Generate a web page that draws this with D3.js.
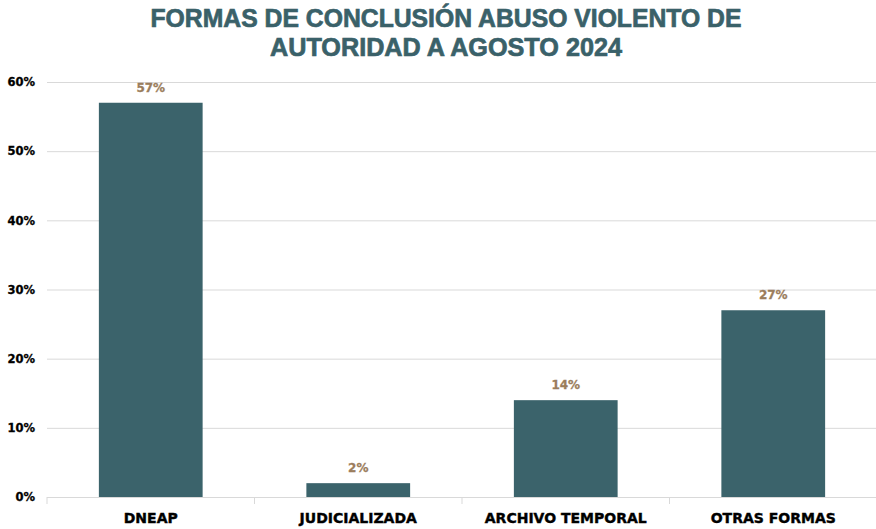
<!DOCTYPE html>
<html lang="es">
<head>
    <meta charset="UTF-8">
    <title>Formas de conclusión abuso violento de autoridad</title>
    <script src="https://d3js.org/d3.v7.min.js"></script>
    <style>
        body { margin: 0; background: white; }
        svg { display: block; }
    </style>
</head>
<body>
    <svg width="876" height="529"></svg>
    <script>
        const categories = ["DNEAP", "JUDICIALIZADA", "ARCHIVO TEMPORAL", "OTRAS FORMAS"];
        const values = [57, 2, 14, 27];
        const yTicks = [0, 10, 20, 30, 40, 50, 60];
        const titleLines = ["FORMAS DE CONCLUSIÓN ABUSO VIOLENTO DE", "AUTORIDAD A AGOSTO 2024"];

        const svg = d3.select("svg"),
            margin = {top: 82, right: 0, bottom: 32, left: 47},
            width = +svg.attr("width") - margin.left - margin.right,
            height = +svg.attr("height") - margin.top - margin.bottom,
            g = svg.append("g").attr("transform", `translate(${margin.left},${margin.top})`);

        const x = d3.scaleBand().domain(categories).range([0, 830]).paddingInner(0.5).paddingOuter(0.25);
        const y = d3.scaleLinear().domain([0, 60]).range([height, 0]);

        // title
        svg.append("g").selectAll("text")
            .data(titleLines)
            .join("text")
            .attr("x", 446)
            .attr("y", (d, i) => 27 + i * 29)
            .attr("text-anchor", "middle")
            .attr("fill", "#3a6169")
            .attr("stroke", "#3a6169")
            .attr("stroke-width", 0.7)
            .style("font-family", "'Liberation Sans Narrow', 'Arial Narrow', sans-serif")
            .style("font-weight", "bold")
            .style("font-size", "26px")
            .attr("textLength", (d, i) => i === 0 ? 591 : 352)
            .attr("lengthAdjust", "spacingAndGlyphs")
            .text(d => d);

        // gridlines + y labels
        g.append("g")
            .call(d3.axisLeft(y).tickValues(yTicks).tickSize(-830).tickFormat(d => d + "%"))
            .call(a => a.select(".domain").remove())
            .call(a => a.selectAll(".tick line").attr("stroke", "#d9d9d9"))
            .call(a => a.selectAll(".tick text")
                .attr("x", -12)
                .attr("fill", "black")
                .attr("stroke", "black")
                .attr("stroke-width", 0.3)
                .style("font-family", "'DejaVu Sans', sans-serif")
                .style("font-weight", "bold")
                .style("font-size", "11.5px"));

        // bars
        g.selectAll(".bar")
            .data(values)
            .join("rect")
            .attr("class", "bar")
            .attr("x", (d, i) => x(categories[i]))
            .attr("y", d => y(d))
            .attr("width", x.bandwidth())
            .attr("height", d => height - y(d))
            .attr("fill", "#3b636b");

        // value labels
        g.selectAll(".val")
            .data(values)
            .join("text")
            .attr("class", "val")
            .attr("x", (d, i) => x(categories[i]) + x.bandwidth() / 2)
            .attr("y", d => y(d) - 11)
            .attr("text-anchor", "middle")
            .attr("fill", "#9b7d5c")
            .attr("stroke", "#9b7d5c")
            .attr("stroke-width", 0.3)
            .style("font-family", "'DejaVu Sans', sans-serif")
            .style("font-weight", "bold")
            .style("font-size", "12px")
            .text(d => d + "%");

        // x axis
        const xa = g.append("g")
            .attr("transform", `translate(0,${height})`)
            .call(d3.axisBottom(x).tickSize(0).tickPadding(16));
        xa.select(".domain").attr("stroke", "#d9d9d9");
        xa.selectAll(".tick text")
            .attr("fill", "black")
            .attr("stroke", "black")
            .attr("stroke-width", 0.4)
            .style("font-family", "'DejaVu Sans', sans-serif")
            .style("font-weight", "bold")
            .style("font-size", "14px");
        // category dividers
        xa.selectAll(".div")
            .data(d3.range(categories.length + 1))
            .join("line")
            .attr("class", "div")
            .attr("x1", i => i * 830 / categories.length)
            .attr("x2", i => i * 830 / categories.length)
            .attr("y1", 0)
            .attr("y2", 7)
            .attr("stroke", "#d9d9d9");
    </script>
</body>
</html>
